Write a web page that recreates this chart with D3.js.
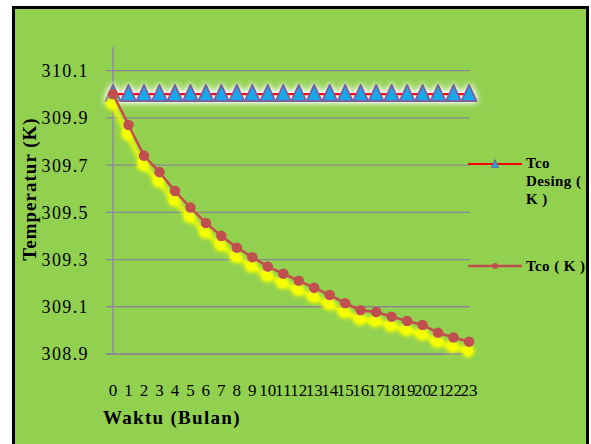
<!DOCTYPE html>
<html>
<head>
<meta charset="utf-8">
<script src="https://cdn.jsdelivr.net/npm/d3@7"></script>
<style>
  html, body { margin: 0; padding: 0; background: #fff; }
  svg { display: block; }
</style>
</head>
<body>
<svg id="chart" width="591" height="444" font-family="'Liberation Serif', 'DejaVu Serif', serif"></svg>
<script>
// data
const months = [0, 1, 2, 3, 4, 5, 6, 7, 8, 9, 10, 11, 12, 13, 14, 15, 16, 17, 18, 19, 20, 21, 22, 23];
const tcoDesign = [310.0, 310.0, 310.0, 310.0, 310.0, 310.0, 310.0, 310.0, 310.0, 310.0, 310.0, 310.0,
                   310.0, 310.0, 310.0, 310.0, 310.0, 310.0, 310.0, 310.0, 310.0, 310.0, 310.0, 310.0];
const tco = [310.00, 309.87, 309.74, 309.67, 309.59, 309.52, 309.455, 309.40, 309.35, 309.31, 309.27, 309.24,
             309.21, 309.18, 309.15, 309.115, 309.085, 309.078, 309.058, 309.04, 309.023, 308.99, 308.97, 308.952];
const yTicks = [308.9, 309.1, 309.3, 309.5, 309.7, 309.9, 310.1];
const legendLabels = [["Tco", "Desing (", "K )"], ["Tco ( K )"]];

const svg = d3.select('#chart');

// background frame
svg.append('rect')
    .attr('x', 13.5).attr('y', 7.5)
    .attr('width', 574).attr('height', 460)
    .attr('fill', '#92d050')
    .attr('stroke', '#000')
    .attr('stroke-width', 3);

const defs = svg.append('defs');

// yellow drop shadow for Tco series
const shadow = defs.append('filter').attr('id', 'yellowShadow')
    .attr('x', '-20%').attr('y', '-20%').attr('width', '140%').attr('height', '160%');
shadow.append('feGaussianBlur').attr('in', 'SourceAlpha').attr('stdDeviation', 2.6).attr('result', 'blur');
shadow.append('feOffset').attr('in', 'blur').attr('dx', -1).attr('dy', 9).attr('result', 'off');
shadow.append('feComponentTransfer').attr('in', 'off').attr('result', 'boost')
    .append('feFuncA').attr('type', 'linear').attr('slope', 1.8);
shadow.append('feFlood').attr('flood-color', '#f4ff00').attr('result', 'col');
shadow.append('feComposite').attr('in', 'col').attr('in2', 'boost').attr('operator', 'in').attr('result', 'sh');
const m1 = shadow.append('feMerge');
m1.append('feMergeNode').attr('in', 'sh');
m1.append('feMergeNode').attr('in', 'SourceGraphic');

// white glow for design series
const glow = defs.append('filter').attr('id', 'whiteGlow')
    .attr('x', '-10%').attr('y', '-60%').attr('width', '120%').attr('height', '220%');
glow.append('feGaussianBlur').attr('in', 'SourceAlpha').attr('stdDeviation', 3.5).attr('result', 'blur');
glow.append('feComponentTransfer').attr('in', 'blur').attr('result', 'boost')
    .append('feFuncA').attr('type', 'linear').attr('slope', 1.6);
glow.append('feFlood').attr('flood-color', '#ffffff').attr('result', 'col');
glow.append('feComposite').attr('in', 'col').attr('in2', 'boost').attr('operator', 'in').attr('result', 'gl');
const m2 = glow.append('feMerge');
m2.append('feMergeNode').attr('in', 'gl');
m2.append('feMergeNode').attr('in', 'SourceGraphic');

// scales
const x = d3.scalePoint().domain(months).range([113, 469]);
const y = d3.scaleLinear().domain([308.9, 310.2]).range([354, 47]);

// gridlines
svg.append('g').selectAll('line')
    .data(yTicks.slice(1))
    .join('line')
    .attr('x1', 106).attr('x2', 470)
    .attr('y1', d => y(d)).attr('y2', d => y(d))
    .attr('stroke', '#8a8795')
    .attr('stroke-width', 1.3);

// vertical axis line
svg.append('line')
    .attr('x1', 113).attr('x2', 113)
    .attr('y1', 47).attr('y2', y(308.9))
    .attr('stroke', '#8a84a0').attr('stroke-width', 1.3);

// bottom axis line
svg.append('line')
    .attr('x1', 106).attr('x2', 470)
    .attr('y1', y(308.9)).attr('y2', y(308.9))
    .attr('stroke', '#8c8c8c').attr('stroke-width', 2.2);

// y tick labels
svg.append('g').selectAll('text')
    .data(yTicks)
    .join('text')
    .attr('x', 89)
    .attr('y', d => y(d))
    .attr('dy', '0.36em')
    .attr('text-anchor', 'end')
    .attr('font-size', 18)
    .attr('letter-spacing', 1.4)
    .text(d => d.toFixed(1));

// x tick labels
svg.append('g').selectAll('text')
    .data(months)
    .join('text')
    .attr('x', d => x(d))
    .attr('y', 396)
    .attr('text-anchor', 'middle')
    .attr('font-size', 17)
    .text(d => d);

// axis titles
svg.append('text')
    .attr('transform', 'translate(36,189) rotate(-90)')
    .attr('text-anchor', 'middle')
    .attr('font-size', 19)
    .attr('font-weight', 'bold')
    .attr('letter-spacing', 1)
    .text('Temperatur (K)');

svg.append('text')
    .attr('x', 103).attr('y', 424)
    .attr('font-size', 19)
    .attr('font-weight', 'bold')
    .attr('letter-spacing', 1.3)
    .text('Waktu (Bulan)');

// design series
const line = d3.line().x((d, i) => x(months[i])).y(d => y(d));
const triPath = (cx, cy, w, h) =>
    `M${cx - w / 2},${cy + h * 0.45} L${cx},${cy - h * 0.55} L${cx + w / 2},${cy + h * 0.45} Z`;

const gDesign = svg.append('g').attr('filter', 'url(#whiteGlow)');
gDesign.append('path')
    .datum(tcoDesign)
    .attr('d', line)
    .attr('fill', 'none')
    .attr('stroke', '#ff0000')
    .attr('stroke-width', 2.5);
gDesign.selectAll('path.tri')
    .data(tcoDesign)
    .join('path')
    .attr('class', 'tri')
    .attr('d', (d, i) => triPath(x(months[i]), y(d) - 0.5, 15, 16))
    .attr('fill', '#12a8e8')
    .attr('stroke', '#7a5fa5')
    .attr('stroke-width', 2)
    .attr('stroke-linejoin', 'round');

// Tco series
const gTco = svg.append('g').attr('filter', 'url(#yellowShadow)');
gTco.append('path')
    .datum(tco)
    .attr('d', line)
    .attr('fill', 'none')
    .attr('stroke', '#c0504d')
    .attr('stroke-width', 2.7);
gTco.selectAll('circle')
    .data(tco)
    .join('circle')
    .attr('cx', (d, i) => x(months[i]))
    .attr('cy', d => y(d))
    .attr('r', 5.3)
    .attr('fill', '#c0504d');

// legend
const legY = [164, 266];
const legend = svg.append('g');
legend.append('line')
    .attr('x1', 468).attr('x2', 522).attr('y1', legY[0]).attr('y2', legY[0])
    .attr('stroke', '#ff0000').attr('stroke-width', 2);
legend.append('path')
    .attr('d', triPath(495, legY[0], 7, 8))
    .attr('fill', '#12a8e8').attr('stroke', '#7a5fa5').attr('stroke-width', 1);
legend.append('line')
    .attr('x1', 468).attr('x2', 522).attr('y1', legY[1]).attr('y2', legY[1])
    .attr('stroke', '#c0504d').attr('stroke-width', 2.7);
legend.append('circle')
    .attr('cx', 495).attr('cy', legY[1]).attr('r', 3)
    .attr('fill', '#c0504d');

const legBase = [168, 271];
legendLabels.forEach((lines, k) => {
    const t = legend.append('text')
        .attr('x', 526).attr('y', legBase[k])
        .attr('font-size', 15)
        .attr('font-weight', 'bold')
        .attr('letter-spacing', 0.4);
    lines.forEach((s, j) => {
        t.append('tspan').attr('x', 526).attr('dy', j === 0 ? 0 : 18).text(s);
    });
});
</script>
</body>
</html>
